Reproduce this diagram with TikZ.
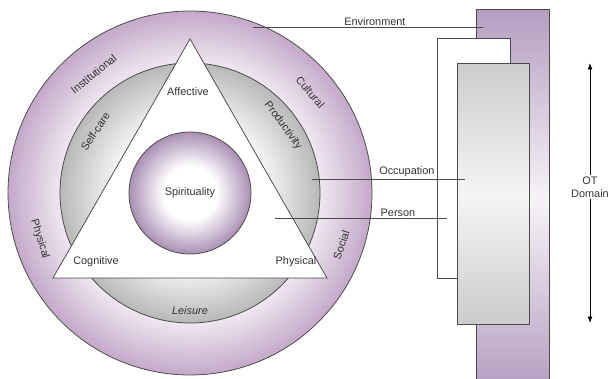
\documentclass[tikz,border=0pt]{standalone}
\usepackage{fontspec}
\setmainfont{Liberation Sans}
\usepackage{xcolor}
\usepackage{tikz}
\usetikzlibrary{arrows.meta, positioning}
\definecolor{ringedge}{HTML}{C3A9C8}
\definecolor{ringlight}{HTML}{F4EEF5}
\definecolor{spheredge}{HTML}{A98FB4}
\definecolor{greyedge}{HTML}{B8B8B8}
\definecolor{linegrey}{HTML}{4A4A4A}
\definecolor{barpurple}{HTML}{B59DC0}
\pgfdeclareradialshading{envring}{\pgfpoint{0bp}{0bp}}{color(0bp)=(white); color(17bp)=(ringlight); color(25bp)=(ringedge); color(50bp)=(ringedge)}
\pgfdeclareradialshading{occring}{\pgfpoint{0bp}{0bp}}{color(0bp)=(white); color(13bp)=(white); color(25bp)=(greyedge); color(50bp)=(greyedge)}
\pgfdeclareradialshading{spirit}{\pgfpoint{0bp}{0bp}}{color(0bp)=(white); color(11bp)=(white); color(25bp)=(spheredge); color(50bp)=(spheredge)}
\tikzset{ring/.style={draw=linegrey,line width=1.1pt},
         sphere/.style={circle,draw=linegrey,line width=1.1pt,shading=spirit,minimum size=6.1cm,inner sep=0pt},
         lbl/.style={font=\fontsize{15.5}{18}\selectfont,text=black!80,inner sep=1pt},
         bar/.style={rectangle,draw=linegrey,line width=1.1pt,anchor=north west,inner sep=0pt},
         leader/.style={draw=linegrey,line width=1.1pt},
         domarrow/.style={-{Latex[length=3.2mm,width=2.4mm]},line width=1pt,black}}

\begin{document}
\begin{tikzpicture}[x=1cm,y=1cm]
    \useasboundingbox (0,0) rectangle (30.5,18.9);
    % Rings
    \coordinate (ctr) at (9.5,9.25);
    \draw[ring,shading=envring] (ctr) circle (9.1);
    \draw[ring,shading=occring] (ctr) circle (6.5);
    % Person triangle
    \draw[ring,fill=white] (2.65,5.0) coordinate (tl) -- (16.35,5.0) coordinate (tr) -- (9.5,16.95) coordinate (tt) -- cycle;
    \node[sphere,lbl] (spirit) at (ctr) {Spirituality};
    \node[lbl] (affective) at (9.4,14.3) {Affective};
    \node[lbl] (cognitive) at (4.8,5.8) {Cognitive};
    \node[lbl] (physicalp) at (14.8,5.8) {Physical};
    % Occupation labels
    \node[lbl,rotate=57] (selfcare) at ([shift={(147:5.65)}]ctr) {Self-care};
    \node[lbl,rotate=-54] (productivity) at ([shift={(36:5.75)}]ctr) {Productivity};
    \node[lbl,font=\fontsize{15.5}{18}\selectfont\itshape] (leisure) at ([shift={(-90:5.9)}]ctr) {Leisure};
    % Environment labels
    \node[lbl,rotate=39] (institutional) at ([shift={(129:7.65)}]ctr) {Institutional};
    \node[lbl,rotate=-50] (cultural) at ([shift={(40:7.85)}]ctr) {Cultural};
    \node[lbl,rotate=-73] (physicale) at ([shift={(197:7.85)}]ctr) {Physical};
    \node[lbl,rotate=71] (social) at ([shift={(-19:8.0)}]ctr) {Social};
    % Bars
    \node[bar,top color=barpurple,bottom color=barpurple,middle color=barpurple!12,minimum width=3.65cm,minimum height=19cm] (envbar) at (23.8,18.45) {};
    \node[bar,fill=white,minimum width=3.65cm,minimum height=12cm] (personbar) at (21.85,17.0) {};
    \node[bar,top color=gray!40,bottom color=gray!40,middle color=gray!8,minimum width=3.6cm,minimum height=13.05cm] (occbar) at (22.85,15.75) {};
    % Leaders
    \coordinate (envin) at (12.65,17.55);
    \coordinate (envout) at (24.15,17.55);
    \coordinate (occin) at (15.6,9.95);
    \coordinate (occout) at (23.25,9.95);
    \coordinate (perin) at (13.75,8.0);
    \coordinate (perout) at (22.35,8.0);
    \draw[leader] (envin) -- node[lbl,above=1pt,pos=0.53] (envlabel) {Environment} (envout);
    \draw[leader] (occin) -- node[lbl,above=1pt,pos=0.62] (occlabel) {Occupation} (occout);
    \draw[leader] (perin) -- node[lbl,above=1pt,pos=0.715] (perlabel) {Person} (perout);
    % OT domain
    \node[lbl,align=center] (otdomain) at (29.5,9.55) {OT\\Domain};
    \coordinate (uptip) at (29.5,15.75);
    \coordinate (downtip) at (29.5,2.75);
    \draw[domarrow] ([yshift=2pt]otdomain.north) -- (otdomain.north |- uptip);
    \draw[domarrow] ([yshift=-2pt]otdomain.south) -- (otdomain.south |- downtip);
\end{tikzpicture}
\end{document}
